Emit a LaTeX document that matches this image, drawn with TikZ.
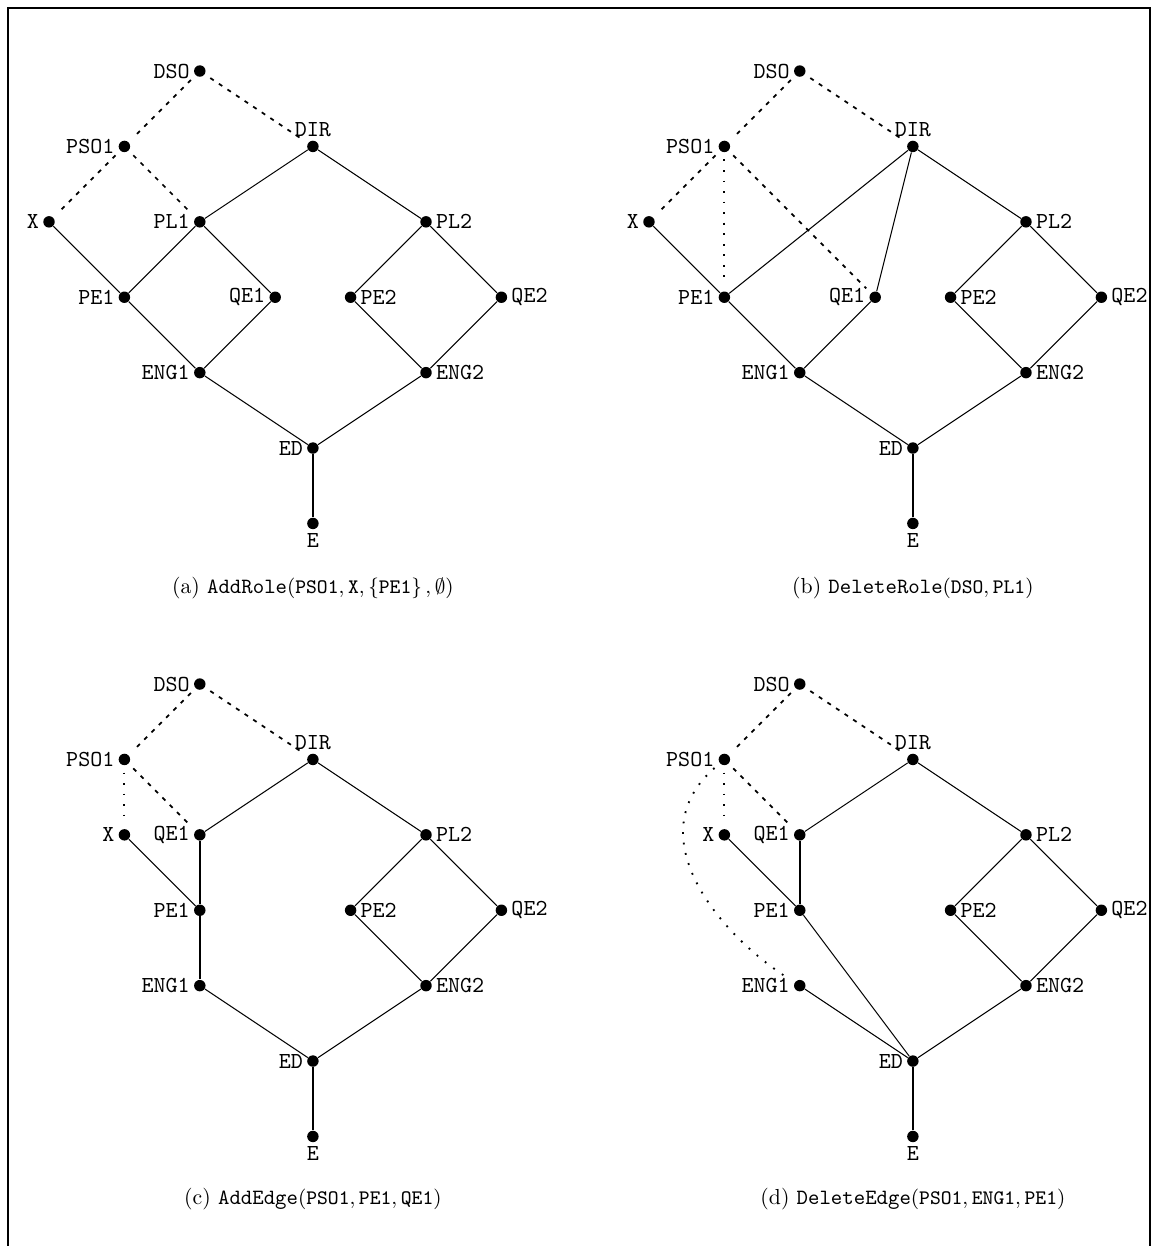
\documentclass[tikz,border=0pt]{standalone}
\usepackage{amsmath,amssymb}
\usetikzlibrary{positioning}

\begin{document}
\begin{tikzpicture}[x=1.157cm,y=1.157cm,
  role/.style={circle,fill,inner sep=0pt,minimum size=5pt},
  every label/.style={font=\ttfamily,inner sep=1.5pt},
  hier/.style={line width=0.45pt},
  heavy/.style={line width=1.1pt},
  assign/.style={line width=0.75pt,dash pattern=on 1.8pt off 2.7pt,shorten <=2.8pt,shorten >=2.8pt},
  newassign/.style={line width=0.8pt,dash pattern=on 0.8pt off 3.8pt,shorten <=3pt,shorten >=3pt},
  caption/.style={font=\fontsize{9.5}{11}\selectfont}]
  \useasboundingbox (0,0) rectangle (15.371,-16.525);
  \draw[line width=1.2pt] (0.106,-16.525) -- (0.106,-0.106) -- (15.252,-0.106) -- (15.252,-16.525);

  % (a) add role X
  \begin{scope}[shift={(0.650,-0.942)},name prefix=a-]
    \node[role,label=left:DSO] (DSO) at (2,0) {};
    \node[role,label=left:PSO1] (PSO1) at (1,-1) {};
    \node[role,label=above:DIR] (DIR) at (3.5,-1) {};
    \node[role,label=left:X] (X) at (0,-2) {};
    \node[role,label=left:PL1] (PL1) at (2,-2) {};
    \node[role,label=right:PL2] (PL2) at (5,-2) {};
    \node[role,label=left:PE1] (PE1) at (1,-3) {};
    \node[role,label=left:QE1] (QE1) at (3,-3) {};
    \node[role,label=right:PE2] (PE2) at (4,-3) {};
    \node[role,label=right:QE2] (QE2) at (6,-3) {};
    \node[role,label=left:ENG1] (ENG1) at (2,-4) {};
    \node[role,label=right:ENG2] (ENG2) at (5,-4) {};
    \node[role,label=left:ED] (ED) at (3.5,-5) {};
    \node[role,label=below:E] (E) at (3.5,-6) {};
    \draw[assign] (DSO) -- (PSO1);
    \draw[assign] (DSO) -- (DIR);
    \draw[assign] (PSO1) -- (X);
    \draw[assign] (PSO1) -- (PL1);
    \draw[hier] (X) -- (PE1) (DIR) -- (PL1) (DIR) -- (PL2) (PL1) -- (PE1) (PL1) -- (QE1)
      (PL2) -- (PE2) (PL2) -- (QE2) (PE1) -- (ENG1) (QE1) -- (ENG1) (PE2) -- (ENG2)
      (QE2) -- (ENG2) (ENG1) -- (ED) (ENG2) -- (ED);
    \draw[heavy] (ED) -- (E);
    \node[caption] (cap) at (3.5,-6.86) {(a) \texttt{AddRole}$(\mathtt{PSO1},\mathtt{X},\left\{\mathtt{PE1}\right\},\emptyset)$};
  \end{scope}

  % (b) delete role PL1
  \begin{scope}[shift={(8.607,-0.942)},name prefix=b-]
    \node[role,label=left:DSO] (DSO) at (2,0) {};
    \node[role,label=left:PSO1] (PSO1) at (1,-1) {};
    \node[role,label=above:DIR] (DIR) at (3.5,-1) {};
    \node[role,label=left:X] (X) at (0,-2) {};
    \node[role,label=right:PL2] (PL2) at (5,-2) {};
    \node[role,label=left:PE1] (PE1) at (1,-3) {};
    \node[role,label=left:QE1] (QE1) at (3,-3) {};
    \node[role,label=right:PE2] (PE2) at (4,-3) {};
    \node[role,label=right:QE2] (QE2) at (6,-3) {};
    \node[role,label=left:ENG1] (ENG1) at (2,-4) {};
    \node[role,label=right:ENG2] (ENG2) at (5,-4) {};
    \node[role,label=left:ED] (ED) at (3.5,-5) {};
    \node[role,label=below:E] (E) at (3.5,-6) {};
    \draw[assign] (DSO) -- (PSO1);
    \draw[assign] (DSO) -- (DIR);
    \draw[assign] (PSO1) -- (X);
    \draw[newassign] (PSO1) -- (PE1);
    \draw[assign] (PSO1) -- (QE1);
    \draw[hier] (X) -- (PE1) (DIR) -- (PE1) (DIR) -- (QE1) (DIR) -- (PL2)
      (PL2) -- (PE2) (PL2) -- (QE2) (PE1) -- (ENG1) (QE1) -- (ENG1) (PE2) -- (ENG2)
      (QE2) -- (ENG2) (ENG1) -- (ED) (ENG2) -- (ED);
    \draw[heavy] (ED) -- (E);
    \node[caption] (cap) at (3.5,-6.86) {(b) \texttt{DeleteRole}$(\mathtt{DSO},\mathtt{PL1})$};
  \end{scope}

  % (c) add edge PE1 -> QE1
  \begin{scope}[shift={(0.650,-9.072)},name prefix=c-]
    \node[role,label=left:DSO] (DSO) at (2,0) {};
    \node[role,label=left:PSO1] (PSO1) at (1,-1) {};
    \node[role,label=above:DIR] (DIR) at (3.5,-1) {};
    \node[role,label=left:X] (X) at (1,-2) {};
    \node[role,label=left:QE1] (QE1) at (2,-2) {};
    \node[role,label=right:PL2] (PL2) at (5,-2) {};
    \node[role,label=left:PE1] (PE1) at (2,-3) {};
    \node[role,label=right:PE2] (PE2) at (4,-3) {};
    \node[role,label=right:QE2] (QE2) at (6,-3) {};
    \node[role,label=left:ENG1] (ENG1) at (2,-4) {};
    \node[role,label=right:ENG2] (ENG2) at (5,-4) {};
    \node[role,label=left:ED] (ED) at (3.5,-5) {};
    \node[role,label=below:E] (E) at (3.5,-6) {};
    \draw[assign] (DSO) -- (PSO1);
    \draw[assign] (DSO) -- (DIR);
    \draw[newassign] (PSO1) -- (X);
    \draw[assign] (PSO1) -- (QE1);
    \draw[hier] (X) -- (PE1) (DIR) -- (QE1) (DIR) -- (PL2)
      (PL2) -- (PE2) (PL2) -- (QE2) (PE2) -- (ENG2)
      (QE2) -- (ENG2) (ENG1) -- (ED) (ENG2) -- (ED);
    \draw[heavy] (QE1) -- (PE1) -- (ENG1);
    \draw[heavy] (ED) -- (E);
    \node[caption] (cap) at (3.5,-6.83) {(c) \texttt{AddEdge}$(\mathtt{PSO1},\mathtt{PE1},\mathtt{QE1})$};
  \end{scope}

  % (d) delete edge ENG1 -> PE1
  \begin{scope}[shift={(8.607,-9.072)},name prefix=d-]
    \node[role,label=left:DSO] (DSO) at (2,0) {};
    \node[role,label=left:PSO1] (PSO1) at (1,-1) {};
    \node[role,label=above:DIR] (DIR) at (3.5,-1) {};
    \node[role,label=left:X] (X) at (1,-2) {};
    \node[role,label=left:QE1] (QE1) at (2,-2) {};
    \node[role,label=right:PL2] (PL2) at (5,-2) {};
    \node[role,label=left:PE1] (PE1) at (2,-3) {};
    \node[role,label=right:PE2] (PE2) at (4,-3) {};
    \node[role,label=right:QE2] (QE2) at (6,-3) {};
    \node[role,label=left:ENG1] (ENG1) at (2,-4) {};
    \node[role,label=right:ENG2] (ENG2) at (5,-4) {};
    \node[role,label=left:ED] (ED) at (3.5,-5) {};
    \node[role,label=below:E] (E) at (3.5,-6) {};
    \draw[assign] (DSO) -- (PSO1);
    \draw[assign] (DSO) -- (DIR);
    \draw[newassign] (PSO1) -- (X);
    \draw[assign] (PSO1) -- (QE1);
    \draw[newassign] (PSO1) .. controls (-0.15,-2) and (0.9,-3.3) .. (ENG1);
    \draw[hier] (X) -- (PE1) (PE1) -- (ED) (DIR) -- (QE1) (DIR) -- (PL2)
      (PL2) -- (PE2) (PL2) -- (QE2) (PE2) -- (ENG2)
      (QE2) -- (ENG2) (ENG1) -- (ED) (ENG2) -- (ED);
    \draw[heavy] (QE1) -- (PE1);
    \draw[heavy] (ED) -- (E);
    \node[caption] (cap) at (3.5,-6.83) {(d) \texttt{DeleteEdge}$(\mathtt{PSO1},\mathtt{ENG1},\mathtt{PE1})$};
  \end{scope}
\end{tikzpicture}
\end{document}
